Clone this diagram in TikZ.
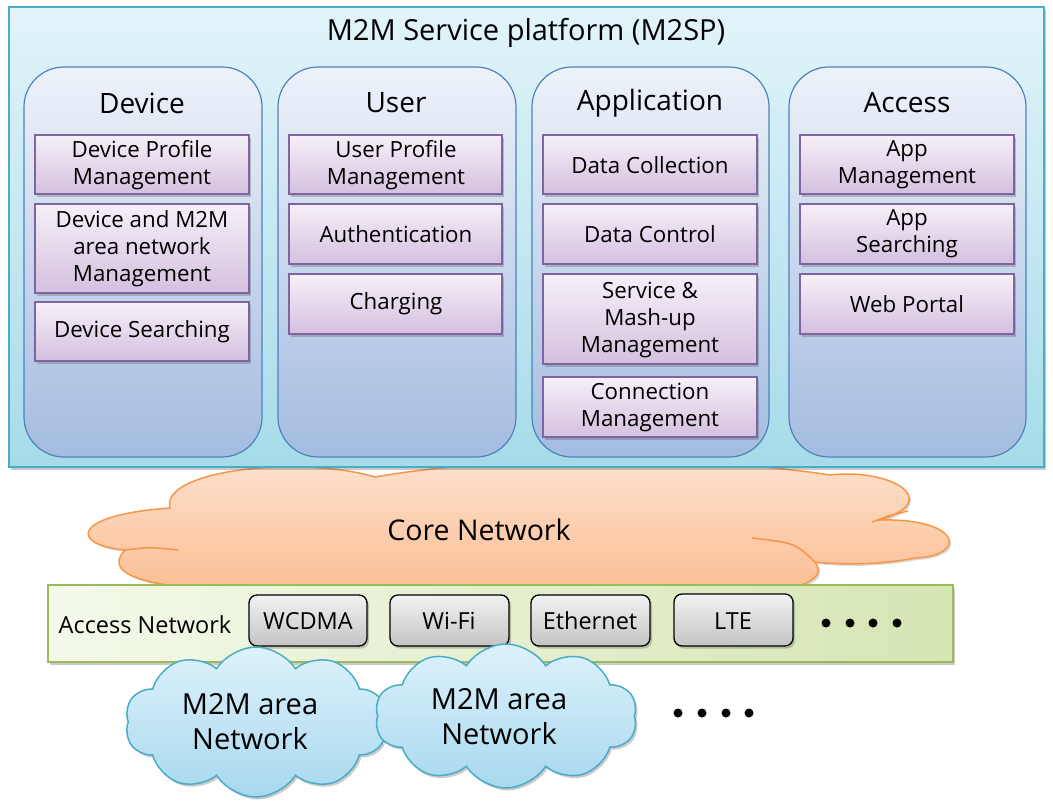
\documentclass[tikz,border=0pt]{standalone}
\usepackage{fontspec}
\setmainfont{Open Sans}
\usetikzlibrary{shapes.symbols,shadows}
\definecolor{platB}{HTML}{4BACC6}
\definecolor{platT}{HTML}{E2F4F9}
\definecolor{platBo}{HTML}{A6DBE9}
\definecolor{colB}{HTML}{4F81BD}
\definecolor{colT}{HTML}{EDF2F9}
\definecolor{colBo}{HTML}{A3BCE0}
\definecolor{purB}{HTML}{8064A2}
\definecolor{purT}{HTML}{F6F0F8}
\definecolor{purBo}{HTML}{D3C0DF}
\definecolor{orB}{HTML}{F79646}
\definecolor{orT}{HTML}{FDE2CF}
\definecolor{orBo}{HTML}{FBBD92}
\definecolor{grB}{HTML}{9BBB59}
\definecolor{grL}{HTML}{F4F9EA}
\definecolor{grR}{HTML}{D5E5B3}
\definecolor{btT}{HTML}{F2F2F2}
\definecolor{btBo}{HTML}{C4C4C4}
\definecolor{clT}{HTML}{DDF2FB}
\definecolor{clBo}{HTML}{A8D8EE}
\tikzset{
  x=1pt,y=-1pt,
  shad/.style={drop shadow={shadow xshift=2pt,shadow yshift=-2.5pt,opacity=0.35,fill=black!60}},
  platbox/.style={draw=platB,line width=1.5pt,top color=platT,bottom color=platBo,shad},
  colbox/.style={draw=colB,line width=1.2pt,rounded corners=40pt,top color=colT,bottom color=colBo},
  purbox/.style={draw=purB,line width=1.2pt,top color=purT,bottom color=purBo,shad},
  btn/.style={draw=black,line width=1.3pt,rounded corners=8pt,top color=btT,bottom color=btBo,shad},
  coltitle/.style={font=\fontsize{28}{32}\selectfont},
  itemtxt/.style={font=\fontsize{22.3}{27}\selectfont,align=center},
  btntxt/.style={font=\fontsize{23.5}{27}\selectfont},
  dotmark/.style={fill=black,circle,inner sep=0pt,minimum size=9pt},
  cloudsh/.style={cloud,cloud ignores aspect,cloud puffs=#1,inner sep=0pt},
  coreline/.style={draw=orB,line width=1.5pt},
}
\begin{document}
\begin{tikzpicture}
\useasboundingbox (0,0) rectangle (1053,811);
% core network cloud (behind platform)
\path[coreline,top color=orT,bottom color=orBo,drop shadow={shadow xshift=2pt,shadow yshift=-2pt,opacity=0.25,fill=black!60}]
  (300,592) .. controls (180,592) and (95,582) .. (125,550)
  .. controls (70,545) and (70,515) .. (170,508)
  .. controls (160,470) and (300,455) .. (375,477)
  .. controls (500,455) and (700,455) .. (830,475)
  .. controls (890,468) and (945,500) .. (880,520)
  .. controls (962,518) and (968,556) .. (915,558)
  .. controls (880,565) and (840,565) .. (815,562)
  .. controls (830,582) and (790,592) .. (740,594)
  -- cycle;
\draw[coreline] (125,550) .. controls (150,547) .. (178,550);
\draw[coreline] (752,538) .. controls (795,543) .. (815,562);
\draw[coreline] (872,522) .. controls (888,516) .. (908,511);
\node[font=\fontsize{28.5}{32}\selectfont] (coretxt) at (479,530) {Core Network};
% platform
\path[platbox] (9,7) rectangle (1044,467);
\node[font=\fontsize{29}{32}\selectfont] (plat) at (526,33) {M2M Service platform (M2SP)};
% columns
\path[colbox] (24,67) rectangle (262,457);
\path[colbox] (278,67) rectangle (516,457);
\path[colbox] (532,67) rectangle (769,457);
\path[colbox] (789,67) rectangle (1026,457);
\node[coltitle] (tdev) at (142,103) {Device};
\node[coltitle] (tusr) at (396,103) {User};
\node[coltitle] (tapp) at (650,103) {Application};
\node[coltitle] (tacc) at (907,103) {Access};
% Device items
\path[purbox] (35,135) rectangle (249,194);
\node[itemtxt] (d1) at (142,165) {Device Profile\\Management};
\path[purbox] (35,204) rectangle (249,293);
\node[itemtxt] (d2) at (142,249) {Device and M2M\\area network\\Management};
\path[purbox] (35,302) rectangle (249,361);
\node[itemtxt] (d3) at (142,332) {Device Searching};
% User items
\path[purbox] (289,135) rectangle (502,194);
\node[itemtxt] (u1) at (396,165) {User Profile\\Management};
\path[purbox] (289,204) rectangle (502,264);
\node[itemtxt] (u2) at (396,234) {Authentication};
\path[purbox] (289,274) rectangle (502,334);
\node[itemtxt] (u3) at (396,304) {Charging};
% Application items
\path[purbox] (543,135) rectangle (757,194);
\node[itemtxt] (a1) at (650,165) {Data Collection};
\path[purbox] (543,204) rectangle (757,264);
\node[itemtxt] (a2) at (650,234) {Data Control};
\path[purbox] (543,274) rectangle (757,364);
\node[itemtxt] (a3) at (650,320) {Service \&\\Mash-up\\Management};
\path[purbox] (543,377) rectangle (757,437);
\node[itemtxt] (a4) at (650,407) {Connection\\Management};
% Access items
\path[purbox] (800,135) rectangle (1014,194);
\node[itemtxt] (c1) at (907,165) {App\\Management};
\path[purbox] (800,204) rectangle (1014,264);
\node[itemtxt] (c2) at (907,234) {App\\Searching};
\path[purbox] (800,274) rectangle (1014,334);
\node[itemtxt] (c3) at (907,304) {Web Portal};
% access network bar
\path[draw=grB,line width=1.5pt,left color=grL,right color=grR,shad] (48,585) rectangle (953,662);
\node[btntxt] (antxt) at (145,625) {Access Network};
\path[btn] (249,595) rectangle (367,646);
\node[btntxt] (b1) at (308,621) {WCDMA};
\path[btn] (390,595) rectangle (509,646);
\node[btntxt] (b2) at (449,621) {Wi-Fi};
\path[btn] (531,595) rectangle (650,646);
\node[btntxt] (b3) at (590,621) {Ethernet};
\path[btn] (674,594) rectangle (793,646);
\node[btntxt] (b4) at (733,621) {LTE};
\node[dotmark] (p1) at (826,623) {};
\node[dotmark] (p2) at (850,623) {};
\node[dotmark] (p3) at (873,623) {};
\node[dotmark] (p4) at (897,623) {};
% M2M area network clouds
\node[cloudsh=10,cloud puff arc=115,draw=platB,line width=1.5pt,top color=clT,bottom color=clBo,minimum width=262pt,minimum height=150pt,shad] (m1) at (256,722) {};
\node[font=\fontsize{29}{35}\selectfont,align=center] (m1t) at (250,722) {M2M area\\Network};
\node[cloudsh=10,cloud puff arc=115,draw=platB,line width=1.5pt,top color=clT,bottom color=clBo,minimum width=262pt,minimum height=144pt,shad] (m2) at (506,716) {};
\node[font=\fontsize{29}{35}\selectfont,align=center] (m2t) at (499,717) {M2M area\\Network};
\node[dotmark] (q1) at (678,713) {};
\node[dotmark] (q2) at (702,713) {};
\node[dotmark] (q3) at (726,713) {};
\node[dotmark] (q4) at (749,713) {};
\end{tikzpicture}
\end{document}
